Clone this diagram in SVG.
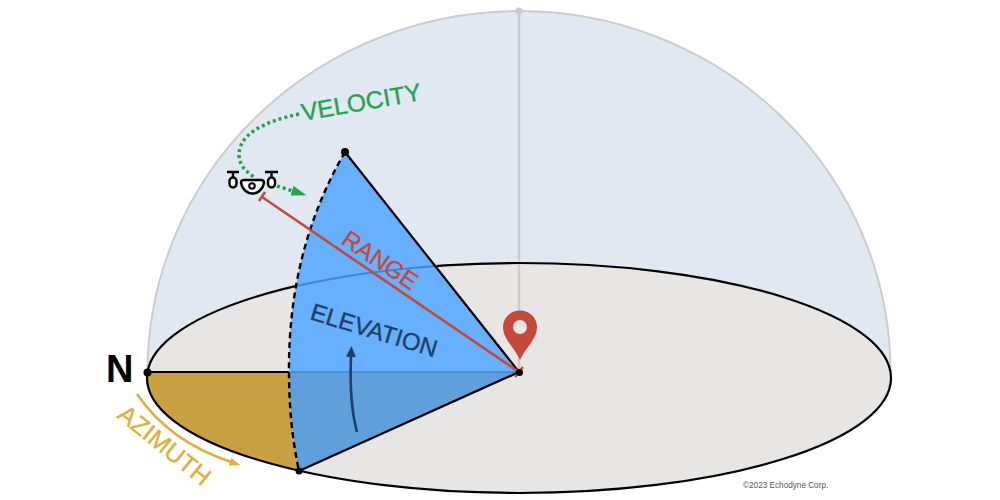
<svg xmlns="http://www.w3.org/2000/svg" width="1000" height="500" viewBox="0 0 1000 500">
<style>
text{font-family:"Liberation Sans",Arial,sans-serif}
.lbl{font-size:25px;stroke-width:.35px}
.dot{fill:#000}
.k{fill:none;stroke:#000;stroke-width:2.2}
</style>
<defs>
<marker id="ag" markerUnits="userSpaceOnUse" markerWidth="16" markerHeight="12" refX="1" refY="5" orient="auto"><path d="M0 0L15 5L0 10Z" fill="#22a34f"/></marker>
<marker id="ay" markerUnits="userSpaceOnUse" markerWidth="14" markerHeight="10" refX="1" refY="4" orient="auto"><path d="M0 0L11 4L0 8Z" fill="#e0ae3d"/></marker>
<marker id="an" markerUnits="userSpaceOnUse" markerWidth="12" markerHeight="14" refX="1" refY="5" orient="auto"><path d="M0 0L11 5L0 10Z" fill="#1f3f66"/></marker>
</defs>
<rect width="1000" height="500" fill="#fff"/>
<g id="dome">
<path d="M147.500 372A371.500 361 0 0 1 890.500 372Z" fill="#e1e8f2" stroke="#cccccc" stroke-width="2"/>
</g>
<g id="ground">
<ellipse cx="519" cy="378" rx="372" ry="115" fill="#e8e6e4"/>
<path d="M519 11V372" fill="none" stroke="#cccccc" stroke-width="2.400"/>
<circle cx="519" cy="11" r="3.500" fill="#cccccc"/>
</g>
<g id="azimuth-sector">
<path d="M147.500 372H289Q289 425 299 471A372 115 0 0 1 147.500 372Z" fill="#c9a143"/>
</g>
<g id="rim">
<ellipse cx="519" cy="378" rx="372" ry="115" class="k"/>
<path d="M147 372H289" class="k"/>
</g>
<g id="elevation-sector">
<path d="M345 152L519 372H289Q288 250 345 152Z" fill="#66b0ff"/>
<path d="M519 372L299 471Q289 425 289 372Z" fill="#5e9fdc"/>
<path d="M290 372H519" fill="none" stroke="#3f86d4" stroke-width="1.500"/>
<path d="M297 286A372 115 0 0 1 437 266" fill="none" stroke="#3f86d4" stroke-width="2"/>
<path d="M345 152Q288 250 289 372Q289 425 299 471" fill="none" stroke="#000" stroke-width="2.400" stroke-dasharray="6 4"/>
<path d="M345 152L519 372L299 471" class="k"/>
</g>
<g id="connectors">
<path d="M299 114C262 122 239 135 239 155C239 166 247 172 254 177" fill="none" stroke="#22a34f" stroke-width="3.500" stroke-dasharray="3 3"/>
<path d="M277 186L293 191" fill="none" stroke="#22a34f" stroke-width="3.500" stroke-dasharray="3 3" marker-end="url(#ag)"/>
<path d="M262 197L519 372" fill="none" stroke="#c4483b" stroke-width="2.600"/>
<path d="M265 192L259 201M523 367L515 377" fill="none" stroke="#c4483b" stroke-width="2.600"/>
<path d="M137 394C160 428 195 450 231 462" fill="none" stroke="#e0ae3d" stroke-width="2.600" marker-end="url(#ay)"/>
<path d="M357 432C351 410 350 380 351 356" fill="none" stroke="#1f3f66" stroke-width="2.600" marker-end="url(#an)"/>
</g>
<g id="drone" fill="none" stroke="#000" stroke-width="2.400">
<path d="M227 172H239M233 172V178M265 172H278M271.500 172V178"/>
<rect x="229.500" y="177.500" width="7" height="10" rx="3.500" fill="#fff"/>
<rect x="268" y="177.500" width="7" height="10" rx="3.500" fill="#fff"/>
<path d="M241 183Q241 180 244 180H261Q264 180 264 183C263 189 258 193.500 252.500 193.500C247 193.500 242 189 241 183Z" fill="#fff"/>
<circle cx="252" cy="186" r="2.800" stroke-width="2"/>
</g>
<g id="pin">
<path d="M520 360C514 347 503 339 503 327A17 16.500 0 0 1 537 327C537 339 526 347 520 360Z" fill="#c4483b"/>
<circle cx="520" cy="327" r="7" fill="#e8e6e4"/>
</g>
<g id="points">
<circle class="dot" cx="345" cy="152" r="4"/>
<circle class="dot" cx="519.500" cy="372.500" r="3.500"/>
<circle class="dot" cx="299" cy="471" r="3.500"/>
<circle class="dot" cx="147.500" cy="372.500" r="4"/>
</g>
<g id="labels">
<text x="106" y="382" font-size="38" font-weight="700" fill="#000">N</text>
<text class="lbl" x="0" y="0" fill="#22a34f" stroke="#22a34f" transform="translate(303 121) rotate(-10)" style="font-size:24.500px">VELOCITY</text>
<text class="lbl" x="0" y="0" fill="#c4483b" stroke="#c4483b" transform="translate(340 243) rotate(34)" style="font-size:24px">RANGE</text>
<text class="lbl" x="0" y="0" fill="#1f3f66" stroke="#1f3f66" transform="translate(309 319) rotate(17)" style="font-size:24px">ELEVATION</text>
<text class="lbl" x="0" y="0" fill="#e0ae3d" stroke="#e0ae3d" transform="translate(116 417) rotate(39)">AZIMUTH</text>
<text x="743" y="488" font-size="8.200" fill="#555">©2023 Echodyne Corp.</text>
</g>
</svg>
